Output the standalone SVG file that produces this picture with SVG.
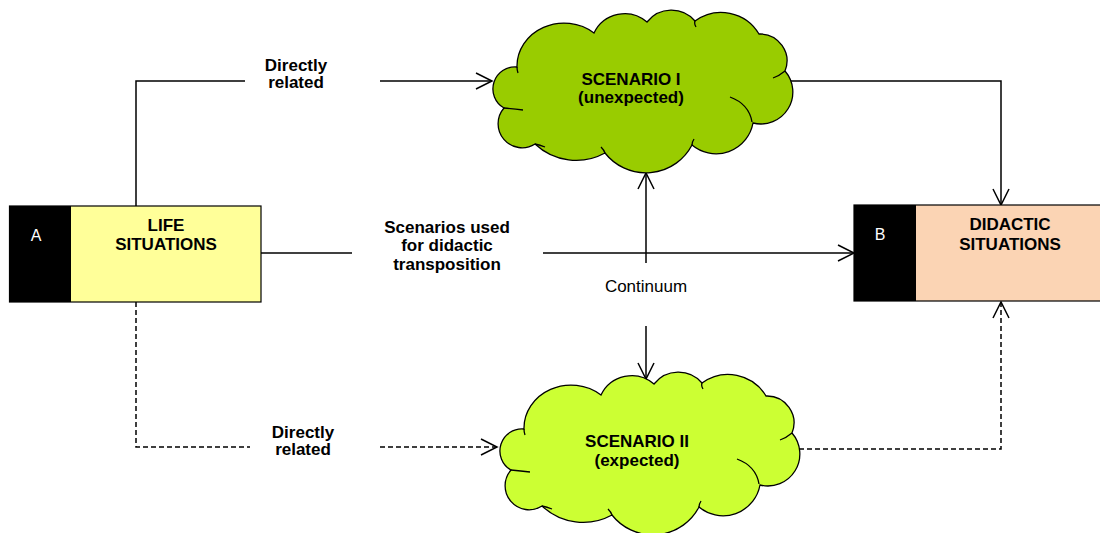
<svg xmlns="http://www.w3.org/2000/svg" xmlns:xlink="http://www.w3.org/1999/xlink" width="1100" height="533" viewBox="0 0 1100 533">
<style>
.ln{fill:none;stroke:#000;stroke-width:1.5}
.dash{stroke-dasharray:5 3}
.b{font-family:"Liberation Sans",Arial,sans-serif;font-size:17px;font-weight:bold;text-anchor:middle;fill:#000}
.r{font-family:"Liberation Sans",Arial,sans-serif;font-size:17px;text-anchor:middle;fill:#000}
.w{font-family:"Liberation Sans",Arial,sans-serif;font-size:16px;text-anchor:middle;fill:#fff}
.box{stroke:#000;stroke-width:1.2}
.cl{stroke:#000;stroke-width:1.3}
.tail{fill:none;stroke:#000;stroke-width:1.3}
</style>
<defs>
<marker id="arr" markerUnits="userSpaceOnUse" markerWidth="20" markerHeight="20" viewBox="-18 -10 20 20" refX="0" refY="0" orient="auto" overflow="visible">
<path d="M-16,-8 L0,0 L-16,8" fill="none" stroke="#000" stroke-width="1.5" stroke-dasharray="none"/>
</marker>
<path id="cloud" d="M517,67 A47,43 0 0 1 594,33 A34,34 0 0 1 647,22 A31,31 0 0 1 695,21 A44,44 0 0 1 759,34 A27,27 0 0 1 785,71 A32,32 0 0 1 753,123 A37.5,37.5 0 0 1 692,145 A52,52 0 0 1 605,153 A60,60 0 0 1 535,144 A24,24 0 0 1 504,108 A22,22 0 0 1 517,67 Z"/>
<path id="tails" d="M517,67 Q517,70 518,73 M504,108 Q514,109 523,110 M535,144 Q540,145 545,147 M605,153 Q604,150 601,147 M692,145 Q692,142 694,139 M730,97 Q749,104 752,122 M785,71 Q779,76 773,78 M695,21 Q694,24 696,27"/>
</defs>

<g id="connectors">
<polyline class="ln" points="136,206 136,81 245,81"/>
<line class="ln" x1="380" y1="81" x2="492" y2="81" marker-end="url(#arr)"/>
<polyline class="ln" points="790,81 1001,81 1001,205" marker-end="url(#arr)"/>
<line class="ln" x1="261" y1="253" x2="352" y2="253"/>
<line class="ln" x1="543" y1="253" x2="854" y2="253" marker-end="url(#arr)"/>
<line class="ln" x1="646" y1="263" x2="646" y2="173" marker-end="url(#arr)"/>
<line class="ln" x1="646" y1="326" x2="646" y2="379" marker-end="url(#arr)"/>
<polyline class="ln dash" points="136,302 136,447 250,447"/>
<line class="ln dash" x1="380" y1="447" x2="497" y2="447" marker-end="url(#arr)"/>
<polyline class="ln dash" points="799,449 1001,449 1001,302" marker-end="url(#arr)"/>
<text class="b" x="296" y="70.5">Directly</text>
<text class="b" x="296" y="88">related</text>
<text class="b" x="303" y="438">Directly</text>
<text class="b" x="303" y="455">related</text>
<text class="b" x="447" y="232.5">Scenarios used</text>
<text class="b" x="447" y="251">for didactic</text>
<text class="b" x="447" y="269.5">transposition</text>
<text class="r" x="646" y="291.5">Continuum</text>
</g>

<g id="life-situations">
<rect class="box" x="9.5" y="206" width="251.5" height="96" fill="#FFFF99"/>
<rect x="9.5" y="206" width="61.5" height="96" fill="#000"/>
<text class="w" x="36" y="241">A</text>
<text class="b" x="166" y="231">LIFE</text>
<text class="b" x="166" y="249.5">SITUATIONS</text>
</g>

<g id="didactic-situations">
<rect class="box" x="854" y="205" width="260" height="96" fill="#FBD4B4"/>
<rect x="854" y="205" width="62" height="96" fill="#000"/>
<text class="w" x="880" y="240">B</text>
<text class="b" x="1010" y="230">DIDACTIC</text>
<text class="b" x="1010" y="250">SITUATIONS</text>
</g>

<g id="scenario-1">
<use xlink:href="#cloud" href="#cloud" class="cl" fill="#99CC00"/>
<use xlink:href="#tails" href="#tails" class="tail"/>
<text class="b" x="631" y="85">SCENARIO I</text>
<text class="b" x="631" y="103">(unexpected)</text>
</g>

<g id="scenario-2">
<g transform="translate(7,362)">
<use xlink:href="#cloud" href="#cloud" class="cl" fill="#CCFF33"/>
<use xlink:href="#tails" href="#tails" class="tail"/>
</g>
<text class="b" x="637" y="447">SCENARIO II</text>
<text class="b" x="637" y="465.5">(expected)</text>
</g>
</svg>
